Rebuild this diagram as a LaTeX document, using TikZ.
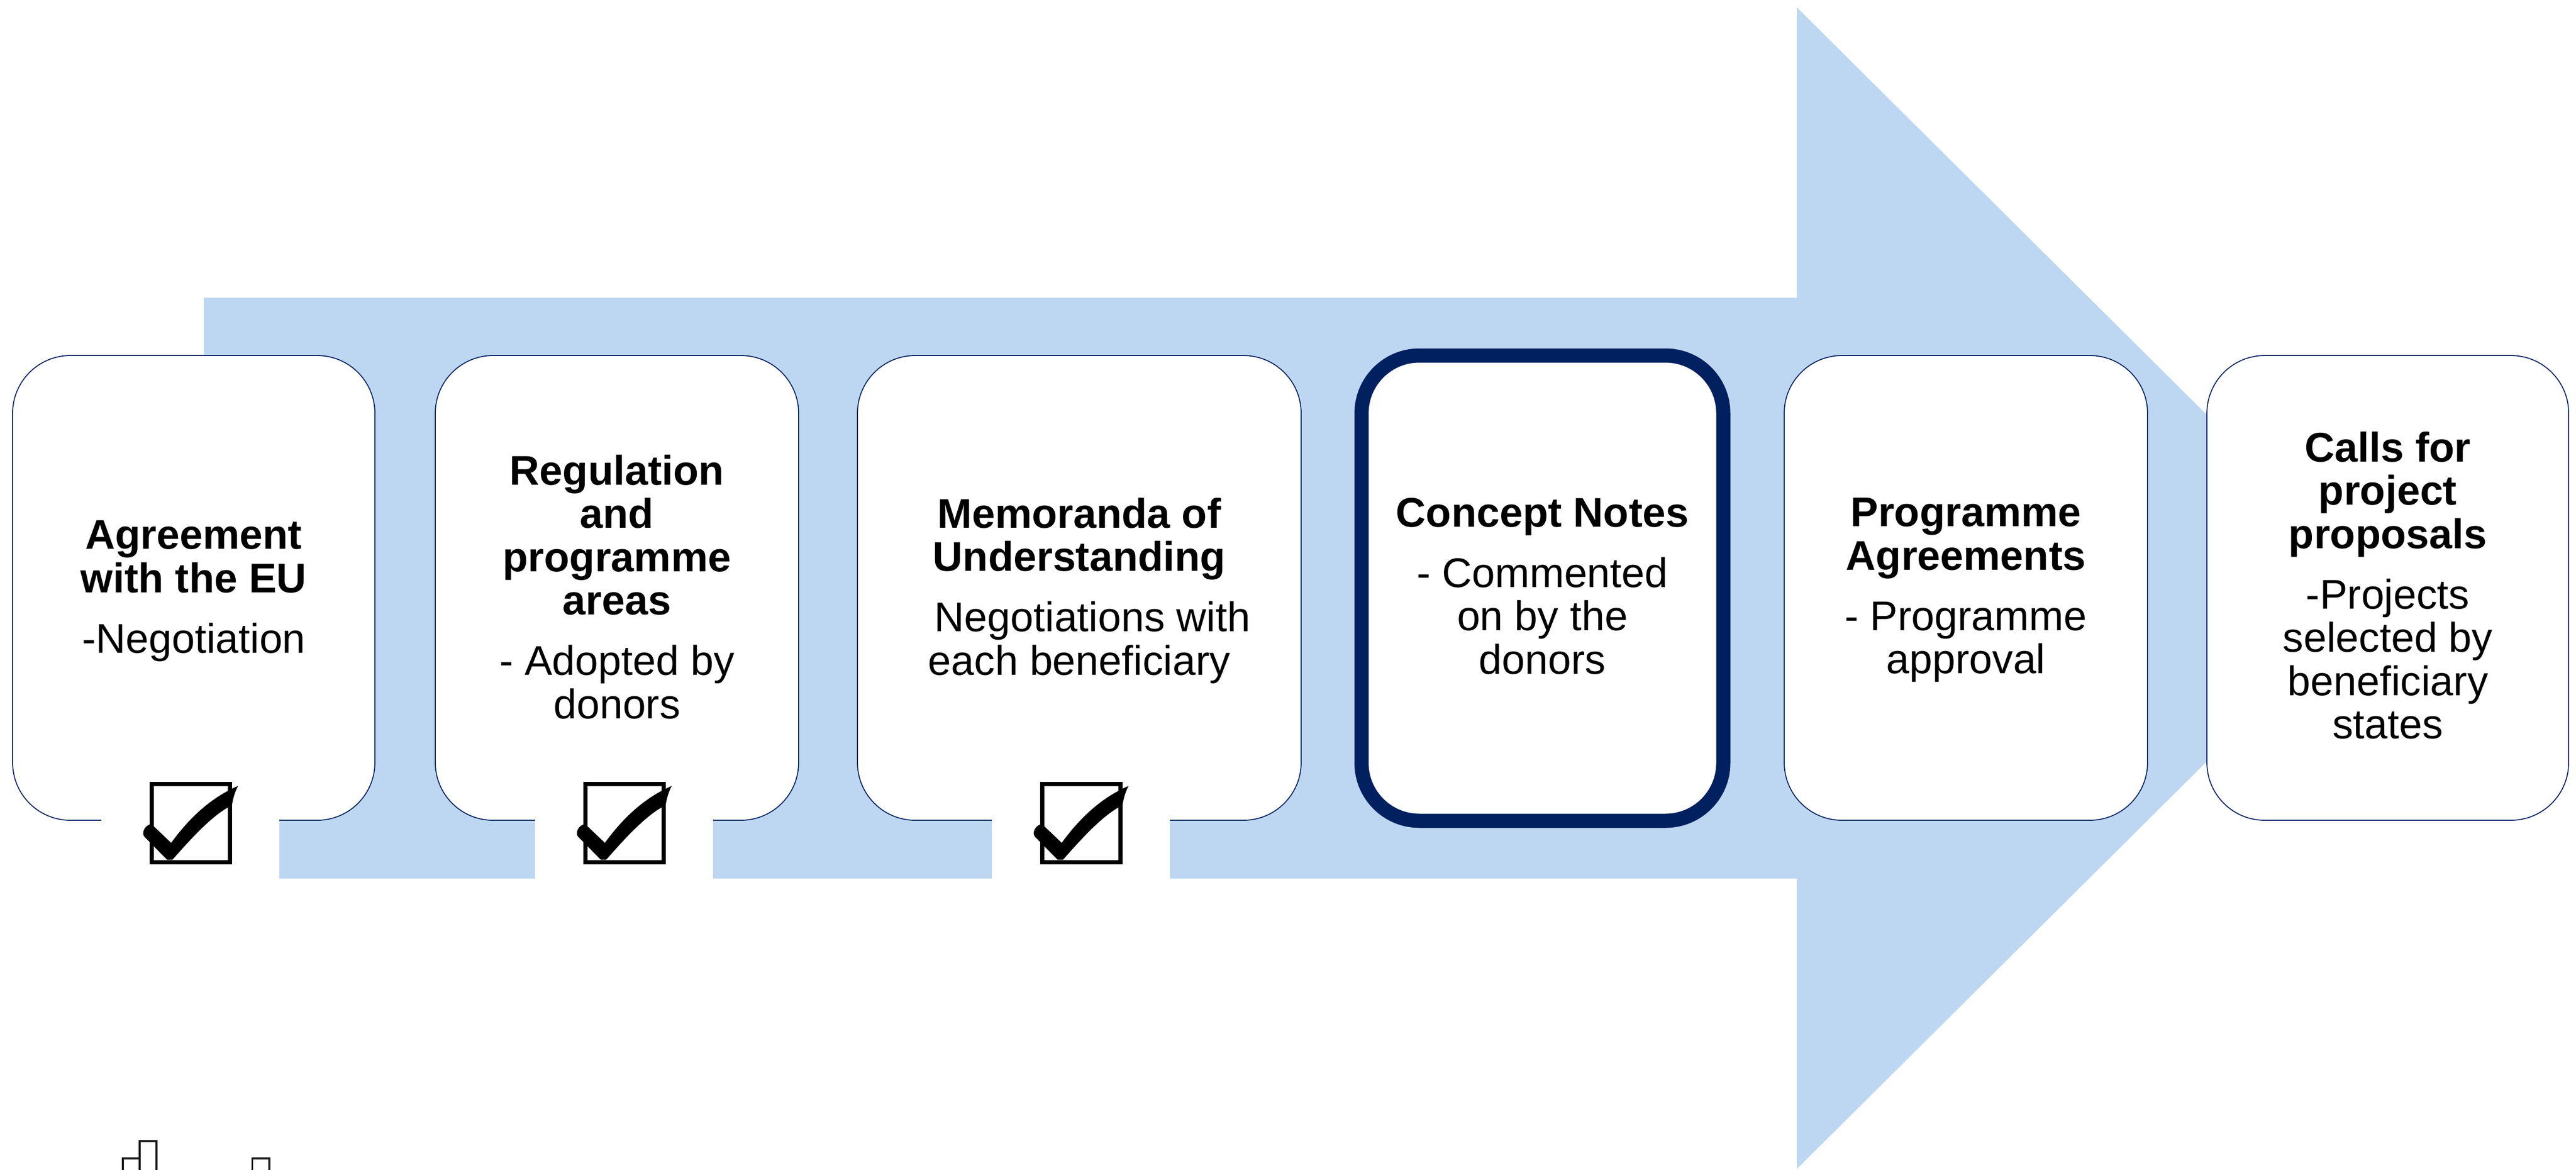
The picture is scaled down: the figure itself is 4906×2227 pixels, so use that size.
\documentclass[tikz,border=0pt]{standalone}
\usepackage{fontspec}
\setmainfont{Liberation Sans}
\definecolor{arrowblue}{RGB}{189,215,242}
\definecolor{navy}{RGB}{0,32,96}
\definecolor{inkgray}{RGB}{26,26,26}
\tikzset{
  stagebox/.style={draw=navy, line width=1.8pt, fill=white, rounded corners=110pt, minimum height=885pt, inner sep=0pt},
  activebox/.style={stagebox, line width=27pt},
  stagetext/.style={anchor=north, align=center, inner sep=0pt, font=\fontsize{79}{82.5}\selectfont},
  notch/.style={fill=white, draw=none, minimum width=339pt, minimum height=215pt, inner sep=0pt},
  chkbox/.style={draw=black, line width=8.5pt, fill=white, minimum size=149pt, inner sep=0pt},
  iconline/.style={draw=inkgray, line width=3.5pt},
  checkmark/.pic={
    \fill[black] (-88.5,25.8) .. controls (-95,18) and (-87,3) .. (-75,1.8)
      -- (-37.5,37.5) .. controls (-10,0) and (30,-45) .. (89.8,-70.8)
      .. controls (83,-58) and (80,-45) .. (78.2,-34.2)
      .. controls (40,-15) and (0,30) .. (-35.2,69.8)
      -- (-45.2,69.8) -- cycle;
  }
}
\begin{document}
\begin{tikzpicture}[x=1pt,y=-1pt]
\clip (0,0) rectangle (4906,2227);
% big arrow
\fill[arrowblue] (388,567) -- (3422,567) -- (3422,14) -- (4535,1120) -- (3422,2226) -- (3422,1673) -- (388,1673) -- cycle;
% stage boxes
\node[stagebox, minimum width=690pt] (b1) at (369,1119.5) {};
\node[stagebox, minimum width=692pt] (b2) at (1175,1119.5) {};
\node[stagebox, minimum width=845pt] (b3) at (2055.5,1119.5) {};
\node[activebox, minimum width=689pt, minimum height=886pt] (b4) at (2937.5,1120) {};
\node[stagebox, minimum width=692pt] (b5) at (3744,1119.5) {};
\node[stagebox, minimum width=689pt] (b6) at (4547.5,1119.5) {};
% texts
\node[stagetext] (t1) at (369,991) {\textbf{Agreement}\\\textbf{with the EU}\\[32.5pt]-Negotiation};
\node[stagetext] (t2) at (1175,866) {\textbf{Regulation}\\\textbf{and}\\\textbf{programme}\\\textbf{areas}\\[32.5pt]- Adopted by\\donors};
\node[stagetext] (t3) at (2055.5,948) {\textbf{Memoranda of}\\\textbf{Understanding}\\[32.5pt]\hspace*{50pt}Negotiations with\\each beneficiary};
\node[stagetext] (t4) at (2937.5,948) {\textbf{Concept Notes}\\[32.5pt]- Commented\\on by the\\donors};
\node[stagetext] (t5) at (3744,948) {\textbf{Programme}\\\textbf{Agreements}\\[32.5pt]- Programme\\approval};
\node[stagetext] (t6) at (4547.5,822) {\textbf{Calls for}\\\textbf{project}\\\textbf{proposals}\\[32.5pt]-Projects\\selected by\\beneficiary\\states};
% white notches under the checkboxes
\node[notch] (n1) at (362.5,1582) {};
\node[notch] (n2) at (1188.5,1582) {};
\node[notch] (n3) at (2058.5,1582) {};
% checkboxes
\node[chkbox] (c1) at (363.5,1567.5) {};
\node[chkbox] (c2) at (1189.5,1567.5) {};
\node[chkbox] (c3) at (2059.5,1567.5) {};
\pic at (c1.center) {checkmark};
\pic at (c2.center) {checkmark};
\pic at (c3.center) {checkmark};
% partial icon at bottom left
\draw[iconline] (233.8,2240) -- (233.8,2205.8) -- (266,2205.8);
\draw[iconline] (266,2240) -- (266,2172.8) -- (298.2,2172.8) -- (298.2,2240);
\draw[iconline] (480.4,2240) -- (480.4,2205.8) -- (512.9,2205.8) -- (512.9,2240);
\end{tikzpicture}
\end{document}
